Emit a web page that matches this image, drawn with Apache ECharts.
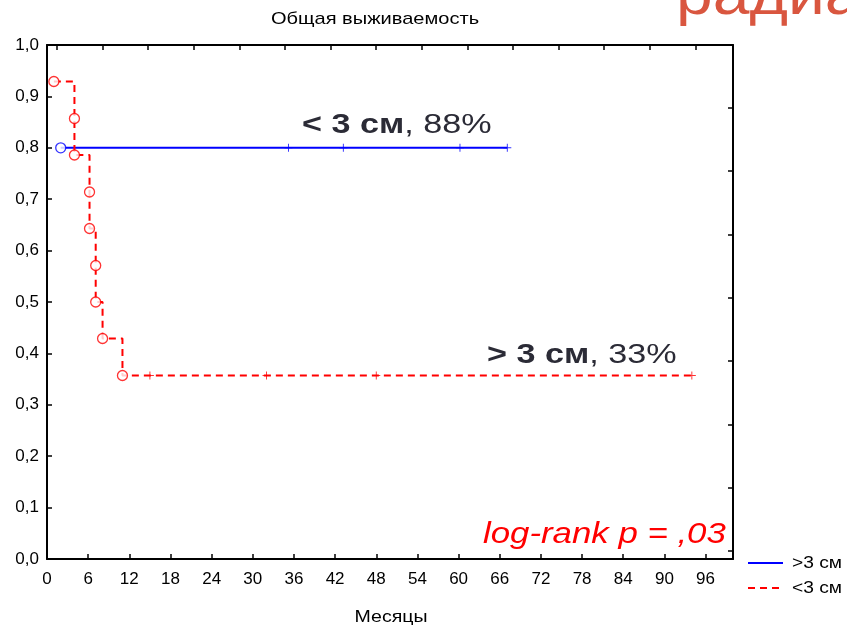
<!DOCTYPE html>
<html>
<head>
<meta charset="utf-8">
<script src="https://cdn.jsdelivr.net/npm/echarts@6/dist/echarts.min.js"></script>
<style>
  html, body { margin: 0; padding: 0; background: #fff; }
  #chart { width: 847px; height: 627px; }
</style>
</head>
<body>
<div id="chart"></div>
<script>
// Kaplan–Meier overall survival, two groups by tumour size
const xTicks = [0, 6, 12, 18, 24, 30, 36, 42, 48, 54, 60, 66, 72, 78, 84, 90, 96];
const yTicks = [0, 0.1, 0.2, 0.3, 0.4, 0.5, 0.6, 0.7, 0.8, 0.9, 1.0];

// group ">3 см" (blue, solid)
const blueEventTimes = [2];
const blueSurvival = [0.8];
const blueCensored = [35.2, 43.2, 60.2, 67.1];

// group "<3 см" (red, dashed)
const redEventTimes = [1, 4, 4, 6.2, 6.2, 7.1, 7.1, 8.1, 11];
const redSurvival = [0.929, 0.857, 0.786, 0.714, 0.643, 0.571, 0.5, 0.429, 0.357];
const redCensored = [15, 32, 48, 94];

const FONT = 'Liberation Sans, Arial, sans-serif';
const BLUE = '#0000ff', RED = '#ff0000', INK = '#2b2b36';

function stepPath(times, surv, censored) {
  const pts = [[times[0], surv[0]]];
  for (let i = 1; i < times.length; i++) {
    pts.push([times[i], surv[i - 1]]);
    pts.push([times[i], surv[i]]);
  }
  const last = surv[surv.length - 1];
  const end = Math.max(times[times.length - 1], ...censored);
  pts.push([end, last]);
  return pts;
}
function points(times, surv) { return times.map((t, i) => [t, surv[i]]); }
function censorPts(times, s) { return times.map(t => [t, s]); }

// small "+" mark for censored observations
const censorSym = 'path://M4.4,0 L5.6,0 L5.6,4.4 L10,4.4 L10,5.6 L5.6,5.6 L5.6,10 L4.4,10 L4.4,5.6 L0,5.6 L0,4.4 L4.4,4.4 Z';

const gridL = 47, gridT = 45, gridR = 114, gridB = 68;
const plotW = 847 - gridL - gridR, plotH = 627 - gridT - gridB;

// text drawn a little wider than the font's natural width
function wideText(x, y, text, font, fill, sx, align) {
  return {
    type: 'text', x: x, y: y, scaleX: sx, z: 10,
    style: { text: text, font: font, fill: fill, align: align || 'left', verticalAlign: 'middle' }
  };
}
function wideRich(x, y, bold, normal, size, sx) {
  return {
    type: 'text', x: x, y: y, scaleX: sx, z: 10,
    style: {
      text: '{b|' + bold + '}{n|' + normal + '}', verticalAlign: 'middle',
      rich: {
        b: { fontFamily: FONT, fontSize: size, fontWeight: 'bold', fill: INK },
        n: { fontFamily: FONT, fontSize: size, fill: INK }
      }
    }
  };
}

const chart = echarts.init(document.getElementById('chart'), null, { renderer: 'canvas' });

const axisBase = {
  axisLine: { show: true, onZero: false, lineStyle: { color: '#000', width: 2 } },
  splitLine: { show: false }
};

chart.setOption({
  animation: false,
  backgroundColor: '#fff',
  grid: { left: gridL, top: gridT, right: gridR, bottom: gridB, containLabel: false },
  xAxis: [Object.assign({}, axisBase, {
    type: 'value', min: 0, max: 100, position: 'bottom',
    axisTick: { inside: true, length: 5, lineStyle: { color: '#000', width: 1.5 }, customValues: xTicks },
    axisLabel: { customValues: xTicks, fontFamily: FONT, fontSize: 17, color: '#000', margin: 12 }
  }), Object.assign({}, axisBase, {
    type: 'value', min: 0, max: plotW, position: 'top',
    axisTick: { inside: true, length: 5, lineStyle: { color: '#000', width: 1.5 },
      customValues: [10, 55.6, 101.2, 146.8, 192.4, 238, 283.6, 329.2, 374.8, 420.4, 466, 511.6, 557.2, 602.8, 648.4] },
    axisLabel: { show: false }
  })],
  yAxis: [Object.assign({}, axisBase, {
    type: 'value', min: 0, max: 1, position: 'left',
    axisTick: { show: true, inside: true, length: 5, lineStyle: { color: '#000', width: 1.5 }, customValues: yTicks },
    axisLabel: {
      customValues: yTicks, fontFamily: FONT, fontSize: 17, color: '#000', margin: 8,
      formatter: v => v.toFixed(1).replace('.', ',')
    }
  }), Object.assign({}, axisBase, {
    type: 'value', min: 0, max: plotH, position: 'right',
    axisTick: { show: true, inside: true, length: 5, lineStyle: { color: '#000', width: 1.5 },
      customValues: [8, 71.3, 134.6, 197.9, 261.2, 324.5, 387.8, 451.1] },
    axisLabel: { show: false }
  })],
  series: [
    {
      name: '>3 см', type: 'line', data: stepPath(blueEventTimes, blueSurvival, blueCensored),
      showSymbol: false, symbol: 'none', color: BLUE,
      lineStyle: { color: BLUE, width: 2 }, z: 3
    },
    {
      name: '<3 см', type: 'line', data: stepPath(redEventTimes, redSurvival, redCensored),
      showSymbol: false, symbol: 'none', color: RED,
      lineStyle: { color: RED, width: 2, type: [7, 5] }, z: 3
    },
    {
      name: 'blueEvents', type: 'scatter', data: points(blueEventTimes, blueSurvival),
      symbol: 'circle', symbolSize: 10,
      itemStyle: { color: '#fff', borderColor: BLUE, borderWidth: 1.3 }, z: 4
    },
    {
      name: 'redEvents', type: 'scatter', data: points(redEventTimes, redSurvival),
      symbol: 'circle', symbolSize: 10,
      itemStyle: { color: '#fff', borderColor: RED, borderWidth: 1.3 }, z: 4
    },
    {
      name: 'blueCensored', type: 'scatter', data: censorPts(blueCensored, blueSurvival[blueSurvival.length - 1]),
      symbol: censorSym, symbolSize: [8, 8],
      itemStyle: { color: BLUE }, z: 4
    },
    {
      name: 'redCensored', type: 'scatter', data: censorPts(redCensored, redSurvival[redSurvival.length - 1]),
      symbol: censorSym, symbolSize: [8, 8],
      itemStyle: { color: RED }, z: 4
    }
  ],
  graphic: [
    // title and axis name
    wideText(375, 19, 'Общая выживаемость', '17px ' + FONT, '#000', 1.18, 'center'),
    wideText(391, 617, 'Месяцы', '17px ' + FONT, '#000', 1.15, 'center'),
    // group annotations
    wideRich(302, 125, '< 3 см', ', 88%', 28, 1.22),
    wideRich(487, 355, '> 3 см', ', 33%', 28, 1.22),
    wideText(483, 535, 'log-rank p = ,03', 'italic 30px ' + FONT, RED, 1.16),
    // legend
    { type: 'line', shape: { x1: 748, y1: 563, x2: 783, y2: 563 }, style: { stroke: BLUE, lineWidth: 2 } },
    { type: 'line', shape: { x1: 748, y1: 588, x2: 783, y2: 588 }, style: { stroke: RED, lineWidth: 2, lineDash: [7, 5] } },
    wideText(792, 564, '>3 см', '16px ' + FONT, '#000', 1.2),
    wideText(792, 589, '<3 см', '16px ' + FONT, '#000', 1.2),
    // heading cut by the top edge
    wideText(676, -3, 'радиа', '60px ' + FONT, '#d9563f', 1.1)
  ]
});
</script>
</body>
</html>
